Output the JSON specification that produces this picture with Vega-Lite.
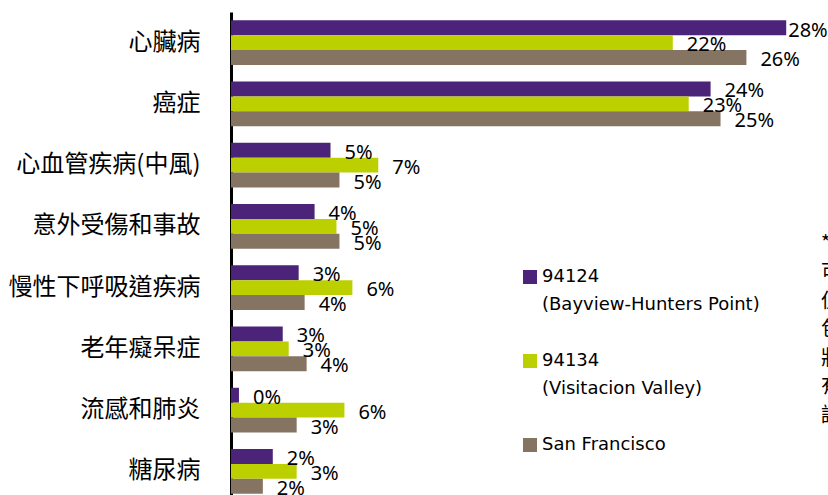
{
  "$schema": "https://vega.github.io/schema/vega-lite/v6.json",
  "width": 597,
  "height": 483,
  "autosize": {"type": "none"},
  "padding": {"left": 231, "top": 12, "right": 0, "bottom": 0},
  "background": "white",
  "config": {"view": {"stroke": null}},
  "datasets": {
    "bars": [
      {"cause": "心臟病", "series": "94124|(Bayview-Hunters Point)", "value": 0.279},
      {"cause": "心臟病", "series": "94134|(Visitacion Valley)", "value": 0.222},
      {"cause": "心臟病", "series": "San Francisco", "value": 0.259},
      {"cause": "癌症", "series": "94124|(Bayview-Hunters Point)", "value": 0.241},
      {"cause": "癌症", "series": "94134|(Visitacion Valley)", "value": 0.230},
      {"cause": "癌症", "series": "San Francisco", "value": 0.246},
      {"cause": "心血管疾病(中風)", "series": "94124|(Bayview-Hunters Point)", "value": 0.050},
      {"cause": "心血管疾病(中風)", "series": "94134|(Visitacion Valley)", "value": 0.074},
      {"cause": "心血管疾病(中風)", "series": "San Francisco", "value": 0.0545},
      {"cause": "意外受傷和事故", "series": "94124|(Bayview-Hunters Point)", "value": 0.042},
      {"cause": "意外受傷和事故", "series": "94134|(Visitacion Valley)", "value": 0.053},
      {"cause": "意外受傷和事故", "series": "San Francisco", "value": 0.0545},
      {"cause": "慢性下呼吸道疾病", "series": "94124|(Bayview-Hunters Point)", "value": 0.034},
      {"cause": "慢性下呼吸道疾病", "series": "94134|(Visitacion Valley)", "value": 0.061},
      {"cause": "慢性下呼吸道疾病", "series": "San Francisco", "value": 0.037},
      {"cause": "老年癡呆症", "series": "94124|(Bayview-Hunters Point)", "value": 0.026},
      {"cause": "老年癡呆症", "series": "94134|(Visitacion Valley)", "value": 0.029},
      {"cause": "老年癡呆症", "series": "San Francisco", "value": 0.038},
      {"cause": "流感和肺炎", "series": "94124|(Bayview-Hunters Point)", "value": 0.004},
      {"cause": "流感和肺炎", "series": "94134|(Visitacion Valley)", "value": 0.057},
      {"cause": "流感和肺炎", "series": "San Francisco", "value": 0.033},
      {"cause": "糖尿病", "series": "94124|(Bayview-Hunters Point)", "value": 0.021},
      {"cause": "糖尿病", "series": "94134|(Visitacion Valley)", "value": 0.033},
      {"cause": "糖尿病", "series": "San Francisco", "value": 0.016}
    ],
    "note": [
      {"t": "*\n可能\n但是\n包括\n狀況\n有關\n請參"}
    ]
  },
  "layer": [
    {
      "data": {"name": "bars"},
      "mark": {"type": "bar"},
      "encoding": {
        "y": {
          "field": "cause", "type": "nominal", "sort": null,
          "scale": {"range": [0, 490], "paddingInner": 0.27, "paddingOuter": 0.135},
          "axis": {"title": null, "domainColor": "black", "domainWidth": 3, "ticks": false,
                   "labelFont": "Noto Sans CJK TC", "labelFontSize": 24, "labelColor": "black",
                   "labelPadding": 31, "labelLimit": 300}
        },
        "yOffset": {"field": "series", "type": "nominal", "sort": null},
        "x": {"field": "value", "type": "quantitative", "scale": {"domain": [0, 0.3]}, "axis": null},
        "color": {
          "field": "series", "type": "nominal", "sort": null,
          "scale": {
            "domain": ["94124|(Bayview-Hunters Point)", "94134|(Visitacion Valley)", "San Francisco"],
            "range": ["#4B2378", "#BCD000", "#857462"]
          },
          "legend": {
            "title": null, "orient": "none", "legendX": 290, "legendY": 256,
            "symbolType": "square", "symbolSize": 196, "symbolStrokeWidth": 0, "symbolOpacity": 1,
            "labelFont": "DejaVu Sans", "labelFontSize": 18, "labelColor": "black",
            "labelExpr": "split(datum.label, '|')", "labelLimit": 400, "labelOffset": 3,
            "rowPadding": 38,
            "encode": {"labels": {"update": {"lineHeight": {"value": 28}}}}
          }
        }
      }
    },
    {
      "data": {"name": "bars"},
      "transform": [{"filter": "!(datum.cause == '心臟病' && datum.value > 0.27)"}],
      "mark": {"type": "text", "align": "left", "baseline": "middle", "dx": 14, "dy": 2.5,
               "font": "Noto Sans", "fontSize": 20, "color": "black"},
      "encoding": {
        "y": {"field": "cause", "type": "nominal", "sort": null},
        "yOffset": {"field": "series", "type": "nominal", "sort": null},
        "x": {"field": "value", "type": "quantitative"},
        "text": {"field": "value", "type": "quantitative", "format": ".0%"}
      }
    },
    {
      "data": {"name": "bars"},
      "transform": [{"filter": "datum.cause == '心臟病' && datum.value > 0.27"}],
      "mark": {"type": "text", "align": "left", "baseline": "middle", "dx": 2, "dy": 3,
               "font": "Noto Sans", "fontSize": 20, "color": "black"},
      "encoding": {
        "y": {"field": "cause", "type": "nominal", "sort": null},
        "yOffset": {"field": "series", "type": "nominal", "sort": null},
        "x": {"field": "value", "type": "quantitative"},
        "text": {"field": "value", "type": "quantitative", "format": ".0%"}
      }
    },
    {
      "data": {"name": "note"},
      "mark": {"type": "text", "align": "left", "baseline": "top", "lineBreak": "\n",
               "lineHeight": 28.6, "dy": 8, "font": "Noto Sans CJK TC", "fontSize": 20, "color": "black"},
      "encoding": {
        "x": {"datum": 0.2965, "type": "quantitative"},
        "y": {"datum": "意外受傷和事故", "type": "nominal"},
        "text": {"field": "t", "type": "nominal"}
      }
    }
  ]
}
